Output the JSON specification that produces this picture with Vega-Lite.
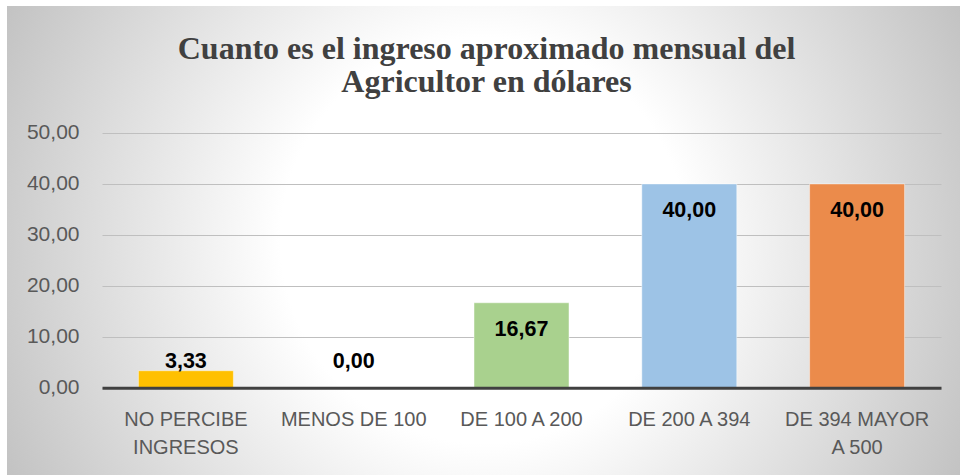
{
  "$schema": "https://vega.github.io/schema/vega-lite/v6.json",
  "width": 953,
  "height": 469,
  "autosize": {"type": "none"},
  "padding": {"left": 7, "top": 6, "right": 0, "bottom": 0},
  "background": "#ffffff",
  "view": {
    "fill": {
      "gradient": "radial",
      "x1": 0.5, "y1": 0.5, "r1": 0,
      "x2": 0.5, "y2": 0.5, "r2": 0.56,
      "stops": [
        {"offset": 0, "color": "#ffffff"},
        {"offset": 0.38, "color": "#ffffff"},
        {"offset": 1, "color": "#c2c2c2"}
      ]
    },
    "stroke": null
  },
  "config": {
    "locale": {"number": {"decimal": ",", "thousands": ".", "grouping": [3], "currency": ["", " €"]}}
  },
  "title": {
    "text": ["Cuanto es el ingreso aproximado mensual del", "Agricultor en dólares"],
    "font": "Liberation Serif",
    "fontSize": 32,
    "fontWeight": "bold",
    "color": "#404040",
    "lineHeight": 33,
    "anchor": "middle",
    "frame": "group",
    "baseline": "alphabetic",
    "offset": -118,
    "dx": 3
  },
  "data": {
    "values": [
      {"cat": "NO PERCIBE INGRESOS", "v": 3.33},
      {"cat": "MENOS DE 100", "v": 0},
      {"cat": "DE 100 A 200", "v": 16.67},
      {"cat": "DE 200 A 394", "v": 40},
      {"cat": "DE 394 MAYOR A 500", "v": 40}
    ]
  },
  "encoding": {
    "x": {
      "field": "cat",
      "type": "nominal",
      "sort": null,
      "scale": {"range": [95, 934], "paddingInner": 0.434, "paddingOuter": 0.217},
      "axis": {
        "title": null,
        "orient": "bottom",
        "offset": -87.3,
        "zindex": 1,
        "ticks": false,
        "grid": false,
        "labelAngle": 0,
        "labelFont": "Liberation Sans",
        "labelFontSize": 20,
        "labelColor": "#595959",
        "labelPadding": 22,
        "labelBaseline": "top",
        "labelLineHeight": 28,
        "labelLimit": 0,
        "labelExpr": "datum.label == 'NO PERCIBE INGRESOS' ? ['NO PERCIBE', 'INGRESOS'] : datum.label == 'DE 394 MAYOR A 500' ? ['DE 394 MAYOR', 'A 500'] : datum.label",
        "domainColor": "#404040",
        "domainWidth": 3
      }
    },
    "y": {
      "field": "v",
      "type": "quantitative",
      "stack": null,
      "scale": {"domain": [-17.14, 74.93], "nice": false, "zero": false},
      "axis": {
        "title": null,
        "offset": -95,
        "values": [0, 10, 20, 30, 40, 50],
        "format": ".2f",
        "domain": false,
        "ticks": false,
        "labelFont": "Liberation Sans",
        "labelFontSize": 21,
        "labelColor": "#595959",
        "labelPadding": 23,
        "gridColor": "#bfbfbf",
        "gridWidth": 1
      }
    }
  },
  "layer": [
    {
      "mark": {"type": "bar", "stroke": "#ffffff", "strokeOpacity": 0.45, "strokeWidth": 1},
      "encoding": {
        "color": {
          "field": "cat",
          "type": "nominal",
          "scale": {
            "domain": ["NO PERCIBE INGRESOS", "MENOS DE 100", "DE 100 A 200", "DE 200 A 394", "DE 394 MAYOR A 500"],
            "range": ["#FFC000", "#5B9BD5", "#A9D18E", "#9DC3E6", "#EB8B4B"]
          },
          "legend": null
        }
      }
    },
    {
      "transform": [{"filter": "datum.v >= 10"}],
      "mark": {"type": "text", "font": "Liberation Sans", "fontWeight": "bold", "fontSize": 21.5, "color": "#000000", "align": "center", "baseline": "middle", "dy": 27},
      "encoding": {"text": {"field": "v", "type": "quantitative", "format": ".2f"}}
    },
    {
      "transform": [{"filter": "datum.v > 0 && datum.v < 10"}],
      "mark": {"type": "text", "font": "Liberation Sans", "fontWeight": "bold", "fontSize": 21.5, "color": "#000000", "align": "center", "baseline": "middle", "dy": -9},
      "encoding": {"text": {"field": "v", "type": "quantitative", "format": ".2f"}}
    },
    {
      "transform": [{"filter": "datum.v == 0"}],
      "mark": {"type": "text", "font": "Liberation Sans", "fontWeight": "bold", "fontSize": 21.5, "color": "#000000", "align": "center", "baseline": "middle", "dy": -26},
      "encoding": {"text": {"field": "v", "type": "quantitative", "format": ".2f"}}
    }
  ]
}
